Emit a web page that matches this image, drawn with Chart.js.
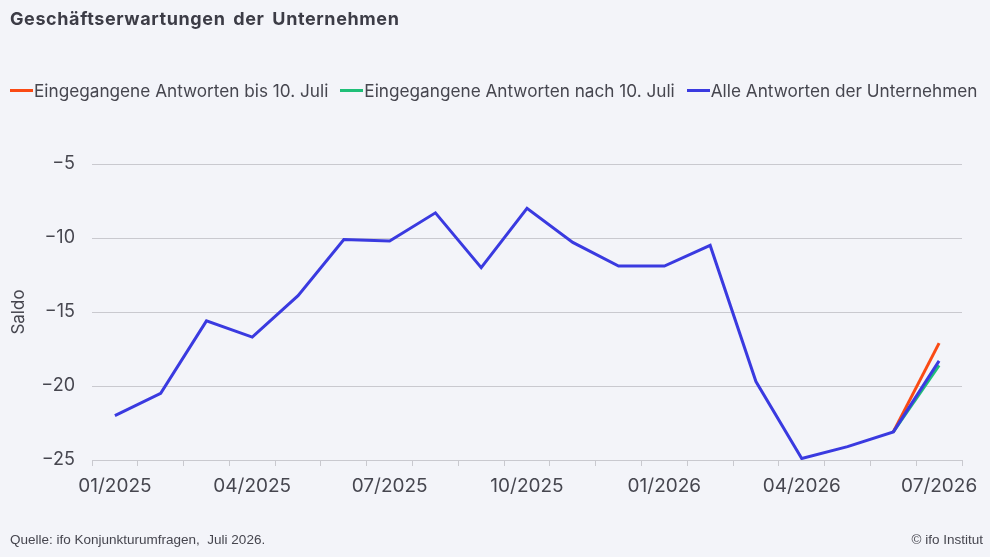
<!DOCTYPE html>
<html><head><meta charset="utf-8">
<script src="https://cdn.jsdelivr.net/npm/chart.js@4"></script>
<style>
html,body{margin:0;padding:0;background:#f3f4f9;width:990px;height:557px;overflow:hidden;font-family:Inter,"Noto Sans",sans-serif;color:#46464f}
#title{position:absolute;left:10px;top:8px;font-size:18px;font-weight:700;letter-spacing:0.6px;word-spacing:3px;color:#3c3c46}
#legend{position:absolute;left:10px;top:80px;font-size:17.2px;white-space:nowrap;display:flex}
#legend span.item{display:inline-flex;align-items:center;margin-right:12px}
#legend i{display:inline-block;width:23px;height:3px;margin-right:1px}
#foot{position:absolute;left:10px;top:532px;font-size:13.5px;font-family:"Liberation Sans",Arial,sans-serif}
#copy{position:absolute;right:7px;top:532px;font-size:13.5px;font-family:"Liberation Sans",Arial,sans-serif}
#wrap{position:absolute;left:0;top:0;width:990px;height:557px}
</style></head><body>
<div id="wrap"><canvas id="c"></canvas></div>
<div id="title">Geschäftserwartungen der Unternehmen</div>
<div id="legend">
<span class="item"><i style="background:#fa4a14"></i>Eingegangene Antworten bis 10. Juli</span>
<span class="item"><i style="background:#1fbf78"></i>Eingegangene Antworten nach 10. Juli</span>
<span class="item"><i style="background:#3a3ae0"></i>Alle Antworten der Unternehmen</span>
</div>
<div id="foot">Quelle: ifo Konjunkturumfragen,&nbsp; Juli 2026.</div>
<div id="copy">© ifo Institut</div>
<script>
const months = ["01/2025","02/2025","03/2025","04/2025","05/2025","06/2025","07/2025","08/2025","09/2025","10/2025","11/2025","12/2025","01/2026","02/2026","03/2026","04/2026","05/2026","06/2026","07/2026"];
const allAnswers = [-22.0,-20.5,-15.6,-16.7,-13.9,-10.1,-10.2,-8.3,-12.0,-8.0,-10.3,-11.9,-11.9,-10.5,-19.7,-24.9,-24.1,-23.1,-18.3];
const before10July = [null,null,null,null,null,null,null,null,null,null,null,null,null,null,null,null,null,-23.1,-17.1];
const after10July = [null,null,null,null,null,null,null,null,null,null,null,null,null,null,null,null,null,-23.1,-18.6];
const yTicks = [-5,-10,-15,-20,-25];
const shownLabels = ["01/2025","04/2025","07/2025","10/2025","01/2026","04/2026","07/2026"];

const txt = '#46464f';
new Chart(document.getElementById('c'), {
  type: 'line',
  data: {
    labels: months,
    datasets: [
      {label:'Alle Antworten der Unternehmen', data: allAnswers, borderColor:'#3a3ae0', borderWidth:3, pointRadius:0, tension:0},
      {label:'Eingegangene Antworten bis 10. Juli', data: before10July, borderColor:'#fa4a14', borderWidth:3, pointRadius:0, tension:0},
      {label:'Eingegangene Antworten nach 10. Juli', data: after10July, borderColor:'#1fbf78', borderWidth:3, pointRadius:0, tension:0}
    ]
  },
  options: {
    responsive: true, maintainAspectRatio: false, animation: false,
    layout: {padding: {left: 9, top: 164, right: 28, bottom: 0}},
    plugins: {legend: {display: false}, tooltip: {enabled: false}},
    scales: {
      x: {
        offset: true,
        grid: {offset: true, drawOnChartArea: false, drawTicks: true, tickLength: 6, color: '#c9c9cf'},
        border: {color: '#c9c9cf', width: 1},
        ticks: {autoSkip: false, maxRotation: 0, color: txt, font: {family: 'Inter', size: 19}, padding: 9,
          callback: function(v, i){ const l = months[i]; return shownLabels.includes(l) ? l : ''; }},
        afterFit: s => { s.height = 97; }
      },
      y: {
        min: -25, max: -5,
        afterBuildTicks: s => { s.ticks = yTicks.map(v => ({value: v})); },
        grid: {color: '#c9c9cf', drawTicks: false},
        border: {display: false},
        ticks: {color: txt, font: {family: 'Inter', size: 18}, padding: 17,
          callback: v => String(v).replace('-', '\u2212')},
        title: {display: true, text: 'Saldo', color: txt, font: {family: 'Inter', size: 17}, padding: {top: 0, bottom: 8}},
        afterFit: s => { s.width = 83; }
      }
    }
  }
});
</script>
</body></html>
